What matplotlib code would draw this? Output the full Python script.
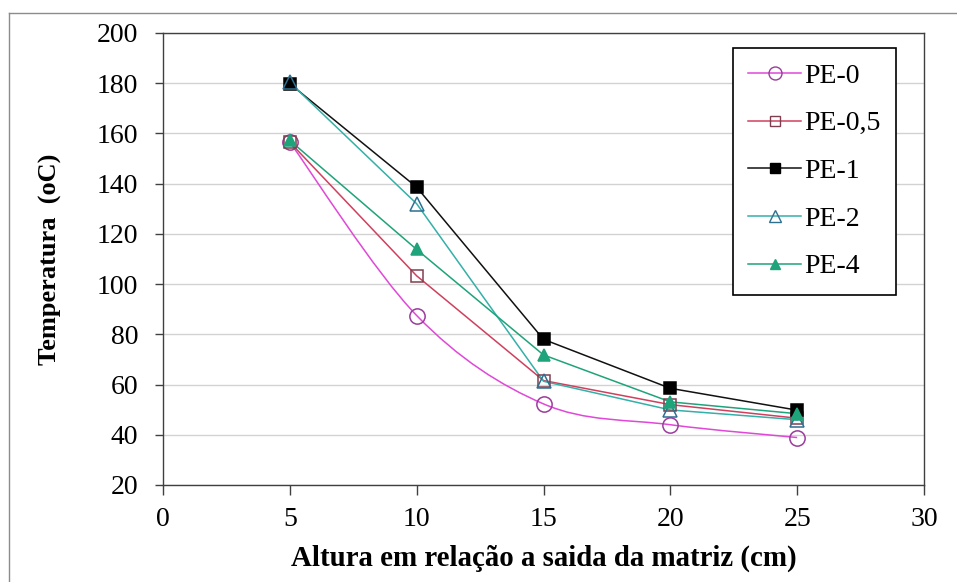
import matplotlib
matplotlib.use("Agg")
import numpy as np
import matplotlib.pyplot as plt
from matplotlib.path import Path
from matplotlib.patches import PathPatch
from matplotlib.lines import Line2D

# altura em relacao a saida da matriz (cm)
alturas = [5, 10, 15, 20, 25]

# temperatura (oC) por amostra
pe_0 = [156.5, 87.5, 52.3, 44.0, 38.9]
pe_05 = [156.5, 103.3, 61.6, 52.0, 46.6]
pe_1 = [179.8, 138.6, 78.0, 58.5, 49.8]
pe_2 = [180.3, 132.0, 61.3, 49.9, 46.0]
pe_4 = [157.2, 113.8, 71.8, 53.1, 48.4]

series_names = ["PE-0", "PE-0,5", "PE-1", "PE-2", "PE-4"]
series_values = [pe_0, pe_05, pe_1, pe_2, pe_4]

styles = {
    "PE-0": dict(color="#E048D8", marker="o", mec="#9A3C9C", mfc="none", ms=11, smooth=True),
    "PE-0,5": dict(color="#D0405E", marker="s", mec="#7E4050", mfc="none", ms=9, smooth=False),
    "PE-1": dict(color="#111111", marker="s", mec="#000000", mfc="#000000", ms=8.5, smooth=False),
    "PE-2": dict(color="#33B0A8", marker="^", mec="#2E7090", mfc="none", ms=10, smooth=False),
    "PE-4": dict(color="#1FA37A", marker="^", mec="#1FA37A", mfc="#1FA37A", ms=8.5, smooth=False),
}


def smooth_path(xs, ys):
    # Excel-like smoothed line: cubic bezier with catmull-rom control points
    pts = np.column_stack([xs, ys]).astype(float)
    n = len(pts)
    verts = [pts[0]]
    codes = [Path.MOVETO]
    for i in range(n - 1):
        p0 = pts[i - 1] if i > 0 else pts[i]
        p1 = pts[i]
        p2 = pts[i + 1]
        p3 = pts[i + 2] if i + 2 < n else pts[i + 1]
        verts += [p1 + (p2 - p0) / 6.0, p2 - (p3 - p1) / 6.0, p2]
        codes += [Path.CURVE4] * 3
    return Path(verts, codes)


plt.rcParams["font.family"] = ["Liberation Serif", "DejaVu Serif"]

fig = plt.figure(figsize=(9.57, 5.82), dpi=100)
ax = fig.add_axes([163 / 957, 1 - 485 / 582, 761 / 957, 452 / 582])

handles = []
for name, vals in zip(series_names, series_values):
    st = styles[name]
    if st["smooth"]:
        ax.add_patch(PathPatch(smooth_path(alturas, vals), facecolor="none",
                               edgecolor=st["color"], lw=1.1, zorder=3))
    else:
        ax.plot(alturas, vals, color=st["color"], lw=1.1, zorder=3)
    ax.plot(alturas, vals, linestyle="none", marker=st["marker"], ms=st["ms"],
            mec=st["mec"], mfc=st["mfc"], mew=1.1, zorder=4)
    handles.append(Line2D([], [], color=st["color"], lw=1.1, marker=st["marker"],
                          ms=st["ms"] * 0.85, mec=st["mec"], mfc=st["mfc"], mew=1.0,
                          label=name))

ax.set_xlim(0, 30)
ax.set_ylim(20, 200)
ax.set_xticks(range(0, 31, 5))
ax.set_yticks(range(20, 201, 20))
ax.yaxis.grid(True, color="#D2D2D2", lw=1)
ax.set_axisbelow(True)

for sp in ax.spines.values():
    sp.set_color("#404040")
    sp.set_linewidth(1)

ax.tick_params(axis="y", direction="out", length=6, width=1, color="#404040",
               labelsize=20, pad=12)
ax.tick_params(axis="x", direction="out", length=7, width=1, color="#404040",
               labelsize=20, pad=9)

ax.set_xlabel("Altura em relação a saida da matriz (cm)", fontsize=20.8,
              fontweight="bold")
ax.xaxis.set_label_coords(0.5, (485 - 558) / 452)
ax.xaxis.label.set_va("center")
ax.set_ylabel("Temperatura  (oC)", fontsize=19, fontweight="bold")
ax.yaxis.set_label_coords((50 - 163) / 761, 0.5)
ax.yaxis.label.set_va("center")

leg = ax.legend(handles=handles, loc="upper right",
                bbox_to_anchor=((896 - 163) / 761, (485 - 48) / 452),
                borderaxespad=0, fancybox=False, framealpha=1, edgecolor="black",
                fontsize=20, handlelength=1.9, handletextpad=0.12,
                labelspacing=0.8, borderpad=0.55)
leg.get_frame().set_linewidth(1.2)

# outer chart border (cropped at right and bottom)
fig.add_artist(Line2D([9 / 957, 9 / 957], [0, 1 - 13 / 582], color="#8C8C8C", lw=1))
fig.add_artist(Line2D([9 / 957, 1], [1 - 13 / 582, 1 - 13 / 582], color="#8C8C8C", lw=1))

fig.savefig("out.png", dpi=100)
